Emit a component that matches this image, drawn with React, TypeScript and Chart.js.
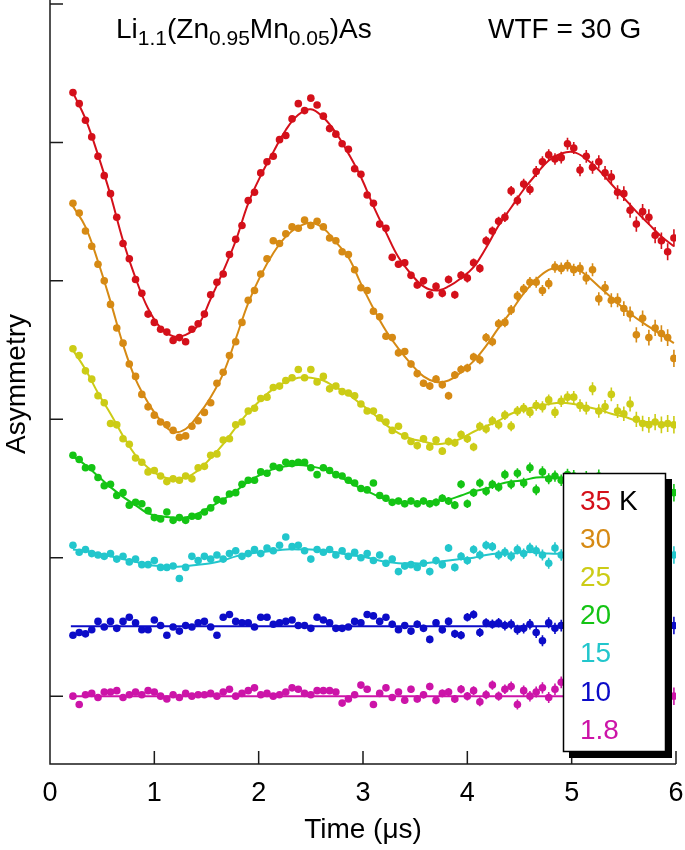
import { useEffect, useRef } from 'react';
import { Chart, registerables } from 'chart.js';

Chart.register(...registerables);

const FONT = "'Liberation Sans', Arial, Helvetica, sans-serif";

// Time bins (μs)
const times = [
  0.22, 0.28, 0.34, 0.40, 0.46, 0.52, 0.58, 0.64, 0.70, 0.76,
  0.82, 0.88, 0.94, 1.00, 1.06, 1.12, 1.18, 1.24, 1.30, 1.36,
  1.42, 1.48, 1.54, 1.60, 1.66, 1.72, 1.78, 1.84, 1.90, 1.96,
  2.02, 2.08, 2.14, 2.20, 2.26, 2.32, 2.38, 2.44, 2.50, 2.56,
  2.62, 2.68, 2.74, 2.80, 2.86, 2.92, 2.98, 3.04, 3.10, 3.16,
  3.22, 3.28, 3.34, 3.40, 3.46, 3.52, 3.58, 3.64, 3.70, 3.76,
  3.82, 3.88, 3.94, 4.00, 4.06, 4.12, 4.18, 4.24, 4.30, 4.36,
  4.42, 4.48, 4.54, 4.60, 4.66, 4.72, 4.78, 4.84, 4.90, 4.96,
  5.02, 5.08, 5.14, 5.20, 5.26, 5.32, 5.38, 5.44, 5.50, 5.56,
  5.62, 5.68, 5.74, 5.80, 5.86, 5.92, 5.98,
];

// Times where the fit curves are sampled
const fitTimes = [
  0.22, 0.34, 0.46, 0.58, 0.70, 0.82, 0.94, 1.06, 1.18, 1.30,
  1.42, 1.54, 1.66, 1.78, 1.90, 2.02, 2.14, 2.26, 2.38, 2.50,
  2.62, 2.74, 2.86, 2.98, 3.10, 3.22, 3.34, 3.46, 3.58, 3.70,
  3.82, 3.94, 4.06, 4.18, 4.30, 4.42, 4.54, 4.66, 4.78, 4.90,
  5.02, 5.14, 5.26, 5.38, 5.50, 5.62, 5.74, 5.86, 5.98,
];
const flatFitTimes = [0.2, 6.0];

// Offset asymmetry data for each temperature
const data35K = [
  43.6, 42.8, 41.6, 40.4, 39.0, 37.6, 36.3, 34.6, 32.7, 31.6,
  30.1, 29.1, 27.6, 27.0, 26.5, 26.3, 25.7, 25.9, 25.6, 26.5,
  26.9, 27.6, 29.0, 29.9, 30.5, 31.9, 33.0, 34.0, 35.8, 36.4,
  37.8, 38.6, 39.0, 40.2, 40.5, 41.7, 42.8, 42.3, 43.2, 42.7,
  41.9, 41.0, 40.6, 39.9, 39.5, 38.1, 37.7, 36.2, 35.6, 34.1,
  33.8, 31.7, 31.2, 31.3, 30.4, 29.7, 30.0, 29.0, 29.6, 29.1,
  30.1, 29.0, 30.4, 30.2, 31.3, 30.9, 32.9, 33.6, 34.3, 34.6,
  36.5, 35.8, 37.0, 36.6, 37.9, 38.6, 39.1, 38.8, 38.9, 39.9,
  39.6, 38.0, 39.0, 38.2, 38.6, 37.8, 37.5, 36.4, 36.3, 35.1,
  34.1, 35.0, 34.6, 33.3, 32.9, 32.1, 33.1,
];
const data30K = [
  35.6, 34.9, 33.6, 32.5, 31.2, 30.0, 28.3, 26.6, 25.5, 24.0,
  23.1, 21.8, 20.9, 20.3, 19.8, 19.6, 19.2, 18.7, 18.8, 19.5,
  19.9, 20.5, 21.2, 22.6, 23.4, 24.6, 25.6, 27.0, 28.6, 29.3,
  30.5, 31.6, 32.9, 32.7, 33.4, 33.9, 33.8, 34.4, 34.0, 34.3,
  33.9, 33.1, 32.9, 32.1, 31.9, 30.8, 29.5, 29.3, 27.8, 27.4,
  26.0, 25.9, 24.8, 24.9, 24.0, 23.3, 22.6, 22.4, 22.9, 22.5,
  21.7, 23.2, 23.6, 23.7, 24.5, 24.3, 25.9, 25.6, 26.9, 27.0,
  27.9, 28.9, 29.4, 29.9, 29.9, 29.3, 29.8, 31.0, 30.9, 31.1,
  30.8, 30.9, 30.2, 30.8, 28.7, 29.5, 28.6, 28.6, 28.0, 27.6,
  26.1, 27.3, 25.9, 26.6, 26.2, 25.9, 24.4,
];
const data25K = [
  25.1, 24.6, 23.5, 22.9, 21.7, 21.2, 19.7, 19.6, 18.6, 18.2,
  17.2, 16.9, 16.2, 16.3, 15.9, 15.5, 15.7, 15.6, 15.9, 15.7,
  16.5, 16.6, 17.4, 17.5, 18.5, 18.6, 19.6, 19.8, 20.6, 20.8,
  21.5, 21.6, 22.3, 22.4, 22.8, 23.0, 23.6, 23.0, 23.6, 22.7,
  23.1, 22.2, 22.4, 22.0, 21.9, 21.7, 21.1, 20.6, 20.6, 20.1,
  19.8, 19.2, 19.5, 18.8, 18.4, 18.1, 18.6, 18.0, 18.5, 17.7,
  18.4, 18.3, 18.9, 18.6, 18.0, 19.5, 19.3, 19.9, 19.6, 20.3,
  19.5, 20.6, 20.8, 20.5, 21.0, 20.9, 21.4, 20.5, 21.3, 21.6,
  21.6, 21.0, 20.8, 22.2, 20.6, 20.9, 21.8, 20.6, 20.4, 21.1,
  20.0, 19.7, 19.6, 19.8, 19.6, 19.7, 19.6,
];
const data20K = [
  17.4, 17.1, 16.5, 16.5, 15.8, 15.2, 15.3, 14.5, 14.7, 13.8,
  14.0, 13.9, 13.4, 12.9, 12.8, 13.3, 12.7, 12.9, 12.7, 13.0,
  13.0, 13.3, 13.6, 14.2, 14.1, 14.6, 14.7, 15.3, 15.6, 15.6,
  16.2, 16.1, 16.6, 16.5, 16.9, 16.8, 16.9, 16.9, 16.5, 16.0,
  16.5, 16.3, 16.0, 15.9, 15.6, 15.4, 15.0, 14.9, 15.4, 14.5,
  14.3, 14.0, 14.1, 13.9, 14.1, 13.9, 14.1, 13.9, 14.0, 14.3,
  14.1, 13.8, 15.3, 13.9, 14.7, 15.4, 14.8, 15.3, 15.1, 16.0,
  15.3, 16.1, 15.4, 16.5, 14.9, 16.2, 15.7, 15.9, 15.6, 16.0,
  15.9, 15.4, 15.8, 15.3, 15.9, 15.2, 15.6, 15.0, 15.5, 14.9,
  15.3, 14.8, 15.2, 14.6, 15.0, 14.5, 14.7,
];
const data15K = [
  10.9, 10.4, 10.6, 10.3, 10.2, 10.1, 10.3, 9.9, 10.1, 9.7,
  9.9, 9.5, 9.5, 9.8, 9.3, 9.3, 9.4, 8.5, 9.3, 10.1,
  9.8, 10.1, 9.9, 10.2, 9.9, 10.3, 10.5, 10.1, 10.3, 10.6,
  10.3, 10.7, 10.5, 10.9, 11.5, 10.8, 10.9, 10.5, 9.9, 10.6,
  10.4, 10.6, 10.2, 10.5, 10.1, 10.4, 10.0, 10.3, 9.8, 10.2,
  9.6, 9.9, 9.0, 9.4, 9.5, 9.3, 9.6, 9.0, 9.8, 9.5,
  10.7, 9.3, 10.1, 9.8, 10.6, 10.2, 10.9, 10.8, 10.2, 10.4,
  10.1, 10.6, 10.3, 10.7, 10.5, 10.2, 9.6, 10.7, 10.2, 10.4,
  10.0, 10.5, 10.1, 9.8, 10.4, 10.6, 9.9, 10.3, 10.2, 9.7,
  10.5, 10.0, 10.4, 9.9, 10.3, 9.8, 10.2,
];
const data10K = [
  4.4, 4.6, 4.5, 4.8, 5.4, 5.0, 5.4, 4.9, 5.4, 5.7,
  5.3, 4.8, 4.8, 5.5, 5.1, 4.4, 5.0, 4.7, 5.1, 5.0,
  5.3, 5.4, 5.0, 4.4, 5.7, 5.9, 5.4, 5.3, 5.3, 5.0,
  5.7, 5.7, 5.2, 5.3, 5.4, 5.5, 5.1, 5.1, 4.9, 5.7,
  5.5, 5.3, 4.9, 4.9, 5.0, 5.4, 5.3, 5.9, 5.8, 5.4,
  5.7, 5.2, 4.8, 5.1, 4.7, 5.2, 4.9, 4.1, 5.3, 4.8,
  5.4, 4.5, 4.4, 5.7, 5.9, 4.6, 5.3, 5.2, 5.3, 5.1,
  5.2, 4.8, 4.9, 5.2, 4.6, 4.0, 5.3, 4.9, 5.1, 5.6,
  4.8, 5.2, 5.5, 4.7, 5.0, 5.4, 4.9, 5.1, 5.3, 4.8,
  5.2, 5.5, 4.9, 5.0, 5.3, 4.7, 5.1,
];
const data1_8K = [
  0.0, -0.6, 0.1, 0.2, -0.1, 0.3, 0.3, 0.4, -0.1, 0.1,
  0.3, 0.1, 0.4, 0.3, 0.0, -0.2, 0.1, -0.1, 0.2, 0.0,
  0.1, 0.1, 0.2, 0.0, 0.3, 0.5, 0.0, 0.2, 0.4, 0.6,
  0.1, 0.2, 0.0, 0.1, 0.3, 0.6, 0.5, 0.2, 0.1, 0.4,
  0.4, 0.4, 0.3, -0.5, -0.2, 0.1, 0.8, 0.5, -0.6, 0.2,
  0.6, -0.1, 0.3, -0.3, 0.5, -0.2, 0.1, 0.7, -0.3, 0.2,
  0.3, -0.2, 0.5, 0.0, 0.4, -0.4, 0.1, 0.8, 0.0, 0.5,
  0.7, -0.6, 0.4, 0.0, 0.3, 0.6, -0.1, 0.5, 1.0, -0.4,
  0.6, 0.2, -0.3, 0.5, 0.1, -0.5, 0.4, 0.7, 0.0, -0.3,
  0.6, 0.2, -0.4, 0.5, 0.1, 0.8, 0.0,
];

// Statistical error (half length of the bar), per time bin
const errorBars = [
  0.08, 0.08, 0.08, 0.08, 0.09, 0.09, 0.09, 0.10, 0.10, 0.10,
  0.10, 0.10, 0.10, 0.11, 0.11, 0.11, 0.11, 0.12, 0.12, 0.12,
  0.12, 0.13, 0.13, 0.13, 0.13, 0.14, 0.14, 0.14, 0.15, 0.15,
  0.15, 0.16, 0.16, 0.16, 0.17, 0.17, 0.17, 0.18, 0.18, 0.18,
  0.19, 0.19, 0.20, 0.20, 0.21, 0.21, 0.21, 0.22, 0.22, 0.23,
  0.23, 0.24, 0.24, 0.25, 0.25, 0.26, 0.26, 0.27, 0.28, 0.28,
  0.29, 0.29, 0.30, 0.31, 0.31, 0.32, 0.33, 0.33, 0.34, 0.35,
  0.36, 0.36, 0.37, 0.38, 0.39, 0.40, 0.40, 0.41, 0.42, 0.43,
  0.44, 0.45, 0.46, 0.47, 0.48, 0.49, 0.50, 0.51, 0.53, 0.54,
  0.55, 0.56, 0.57, 0.59, 0.60, 0.61, 0.63,
];

// Fit curves
const fit35K = [
  43.6, 41.7, 39.1, 36.2, 32.9, 30.2, 28.0, 26.6, 26.0, 26.1,
  26.8, 28.7, 30.7, 32.9, 35.6, 37.6, 39.3, 40.9, 42.0, 42.4,
  41.8, 40.7, 39.2, 37.5, 35.4, 33.5, 31.7, 30.5, 29.6, 29.3,
  29.6, 30.2, 31.0, 32.4, 34.0, 35.3, 36.6, 37.7, 38.7, 39.2,
  39.3, 38.8, 38.0, 37.0, 36.0, 35.0, 34.1, 33.2, 32.5,
];
const fit30K = [
  35.4, 33.9, 31.4, 28.5, 25.4, 22.9, 21.2, 19.9, 19.1, 19.3,
  20.3, 21.6, 23.3, 25.8, 28.4, 30.4, 32.0, 33.2, 33.9, 34.2,
  33.8, 32.8, 31.7, 29.8, 28.0, 26.4, 25.1, 24.0, 23.1, 22.7,
  22.8, 23.4, 24.2, 25.3, 26.6, 27.8, 29.1, 30.1, 30.8, 31.0,
  31.0, 30.4, 29.6, 28.8, 28.0, 27.3, 26.7, 26.1, 25.5,
];
const fit25K = [
  25.0, 23.6, 21.9, 20.4, 18.8, 17.4, 16.5, 15.9, 15.7, 15.8,
  16.3, 17.2, 18.2, 19.4, 20.5, 21.4, 22.2, 22.7, 23.0, 23.0,
  22.8, 22.3, 21.8, 21.1, 20.4, 19.6, 19.0, 18.6, 18.4, 18.2,
  18.3, 18.6, 19.1, 19.5, 19.9, 20.4, 20.7, 20.9, 21.1, 21.2,
  21.1, 20.9, 20.7, 20.4, 20.2, 19.9, 19.8, 19.7, 19.6,
];
const fit20K = [
  17.3, 16.7, 15.9, 15.1, 14.4, 13.8, 13.2, 13.0, 12.9, 12.9,
  13.2, 13.7, 14.2, 14.8, 15.5, 16.0, 16.4, 16.6, 16.7, 16.6,
  16.4, 16.0, 15.5, 15.0, 14.6, 14.2, 14.0, 14.0, 14.0, 14.1,
  14.2, 14.5, 14.8, 15.0, 15.3, 15.5, 15.6, 15.8, 15.8, 15.8,
  15.7, 15.6, 15.5, 15.3, 15.2, 15.0, 14.9, 14.8, 14.6,
];
const fit15K = [
  10.6, 10.5, 10.3, 10.1, 9.9, 9.7, 9.5, 9.4, 9.35, 9.4,
  9.5, 9.6, 9.8, 10.1, 10.3, 10.4, 10.5, 10.6, 10.6, 10.6,
  10.5, 10.4, 10.2, 10.1, 9.9, 9.7, 9.6, 9.6, 9.6, 9.7,
  9.8, 9.9, 10.0, 10.2, 10.3, 10.3, 10.4, 10.4, 10.3, 10.3,
  10.3, 10.3, 10.2, 10.2, 10.2, 10.2, 10.1, 10.1, 10.1,
];
const fit10K = [5.05, 5.05];
const fit1_8K = [0, 0];

const tempLabels = ['35', '30', '25', '20', '15', '10', '1.8'];
const seriesColors = ['#d4101a', '#d68a14', '#cccc16', '#14c414', '#22c6cc', '#0c0cc8', '#cc14a8'];
const seriesData = [data35K, data30K, data25K, data20K, data15K, data10K, data1_8K];
const seriesFits = [fit35K, fit30K, fit25K, fit20K, fit15K, fit10K, fit1_8K];
const seriesFitTimes = [fitTimes, fitTimes, fitTimes, fitTimes, fitTimes, flatFitTimes, flatFitTimes];

const yTicks = [0, 10, 20, 30, 40, 50];
const xTicks = [0, 1, 2, 3, 4, 5, 6];

const titleParts: [string, boolean][] = [
  ['Li', false], ['1.1', true], ['(Zn', false], ['0.95', true], ['Mn', false], ['0.05', true], [')As', false],
];
const fieldText = 'WTF = 30 G';

const errorBarPlugin = {
  id: 'errorBars',
  beforeDatasetsDraw(chart: any) {
    const { ctx, chartArea: a, scales } = chart;
    const xs = scales.x, ys = scales.y;
    ctx.save();
    ctx.beginPath();
    ctx.rect(a.left, a.top, a.right - a.left, a.bottom - a.top);
    ctx.clip();
    ctx.lineWidth = 1.6;
    seriesData.forEach((vals, si) => {
      ctx.strokeStyle = seriesColors[si];
      ctx.beginPath();
      vals.forEach((v, i) => {
        const e = errorBars[i] ?? errorBars[errorBars.length - 1];
        const px = xs.getPixelForValue(times[i]);
        ctx.moveTo(px, ys.getPixelForValue(v - e));
        ctx.lineTo(px, ys.getPixelForValue(v + e));
      });
      ctx.stroke();
    });
    ctx.restore();
  },
};

const framePlugin = {
  id: 'frame',
  afterDraw(chart: any) {
    const { ctx, chartArea: a, scales } = chart;
    const xs = scales.x, ys = scales.y;
    ctx.save();
    ctx.strokeStyle = '#1a1a1a';
    ctx.lineWidth = 1.5;
    ctx.beginPath();
    ctx.moveTo(a.left, 0);
    ctx.lineTo(a.left, a.bottom);
    ctx.lineTo(a.right, a.bottom);
    yTicks.forEach((v) => {
      const py = ys.getPixelForValue(v);
      ctx.moveTo(a.left, py);
      ctx.lineTo(a.left + 13, py);
    });
    xTicks.forEach((v) => {
      if (v === 0) return;
      const px = xs.getPixelForValue(v);
      ctx.moveTo(px, a.bottom);
      ctx.lineTo(px, a.bottom - 13);
    });
    ctx.stroke();

    // Titles at top
    ctx.fillStyle = '#000';
    ctx.textBaseline = 'alphabetic';
    ctx.textAlign = 'left';
    let x = 116;
    const base = 38;
    titleParts.forEach(([t, sub]) => {
      ctx.font = sub ? `21px ${FONT}` : `28px ${FONT}`;
      ctx.fillText(t, x, sub ? base + 7 : base);
      x += ctx.measureText(t).width;
    });
    ctx.font = `28px ${FONT}`;
    ctx.fillText(fieldText, 488, base);

    // Legend box with drop shadow
    const bx = 563, by = 473, bw = 103, bh = 279;
    ctx.fillStyle = '#000';
    ctx.fillRect(bx + 6, by + 6, bw, bh);
    ctx.fillStyle = '#fff';
    ctx.fillRect(bx, by, bw, bh);
    ctx.strokeStyle = '#000';
    ctx.lineWidth = 1.5;
    ctx.strokeRect(bx + 0.5, by + 0.5, bw - 1, bh - 1);
    ctx.font = `28px ${FONT}`;
    tempLabels.forEach((lab, i) => {
      const ty = by + 37 + i * 38.1;
      ctx.fillStyle = seriesColors[i];
      ctx.fillText(lab, bx + 17, ty);
      if (i === 0) {
        const w = ctx.measureText(lab + ' ').width;
        ctx.fillStyle = '#000';
        ctx.fillText('K', bx + 17 + w, ty);
      }
    });
    ctx.restore();
  },
};

export default function App() {
  const ref = useRef<HTMLCanvasElement | null>(null);
  useEffect(() => {
    if (!ref.current) return;
    const datasets: any[] = [];
    tempLabels.forEach((lab, si) => {
      datasets.push({
        label: `${lab} K fit`,
        data: seriesFitTimes[si].map((t, i) => ({ x: t, y: seriesFits[si][i] })),
        showLine: true,
        borderColor: seriesColors[si],
        borderWidth: 2,
        pointRadius: 0,
        tension: 0.4,
        fill: false,
        order: 0,
      });
      datasets.push({
        label: `${lab} K`,
        data: times.map((t, i) => ({ x: t, y: seriesData[si][i] })),
        showLine: false,
        pointRadius: 3.8,
        pointBackgroundColor: seriesColors[si],
        pointBorderWidth: 0,
        borderColor: seriesColors[si],
        order: 1,
      });
    });
    const chart = new Chart(ref.current, {
      type: 'scatter',
      data: { datasets },
      options: {
        animation: false,
        responsive: false,
        devicePixelRatio: 1,
        layout: { padding: { top: 1, right: 9, left: 0, bottom: 0 } },
        plugins: { legend: { display: false }, tooltip: { enabled: false } },
        scales: {
          x: {
            type: 'linear',
            min: 0,
            max: 6,
            afterFit: (s: any) => {
              s.height = 86;
              s.paddingLeft = 0;
              s.paddingRight = 0;
            },
            grid: { display: false, drawTicks: false },
            border: { display: false },
            ticks: {
              stepSize: 1,
              autoSkip: false,
              maxRotation: 0,
              padding: 13,
              color: '#000',
              font: { family: FONT, size: 27 },
            },
            title: {
              display: true,
              text: 'Time (μs)',
              color: '#000',
              font: { family: FONT, size: 28 },
              padding: { top: 0, bottom: 3 },
            },
          },
          y: {
            type: 'linear',
            min: -4.9,
            max: 50,
            afterFit: (s: any) => {
              s.width = 50;
              s.paddingTop = 0;
              s.paddingBottom = 0;
            },
            grid: { display: false, drawTicks: false },
            border: { display: false },
            ticks: { display: false, stepSize: 10 },
            title: {
              display: true,
              text: 'Asymmetry',
              color: '#000',
              font: { family: FONT, size: 28 },
              padding: { top: 0, bottom: 0 },
            },
          },
        },
      } as any,
      plugins: [errorBarPlugin, framePlugin],
    });
    return () => chart.destroy();
  }, []);
  return (
    <div style={{ position: 'absolute', left: 0, top: 0, width: 685, height: 850, background: '#fff' }}>
      <canvas ref={ref} width={685} height={850} style={{ display: 'block' }} />
    </div>
  );
}
